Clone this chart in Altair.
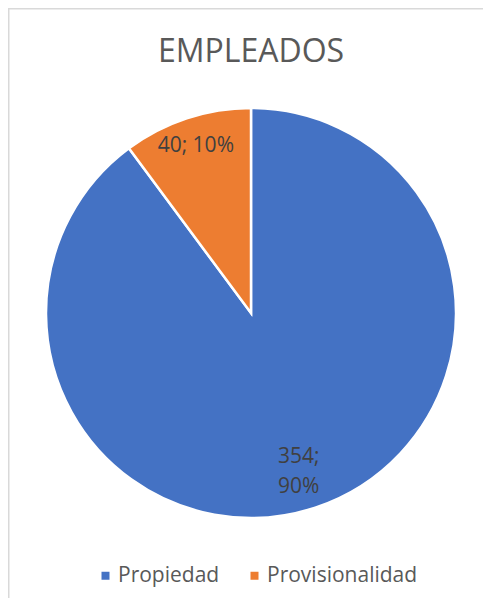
import altair as alt
import pandas as pd

categories = ["Propiedad", "Provisionalidad"]
values = [354, 40]
colors = ["#4472C4", "#ED7D31"]
label_sep = ["\n", " "]  # Excel wrapped the large slice's label onto two lines
title_text = "EMPLEADOS"

total = sum(values)
df = pd.DataFrame({
    "categoria": categories,
    "valor": values,
    "orden": list(range(len(categories))),
})
df["label"] = [f"{v};{s}{round(100 * v / total)}%" for v, s in zip(values, label_sep)]

FONT = "Open Sans"
CX, CY, R = 243, 305, 205
W, H = 475, 590

base = alt.Chart(df).encode(
    theta=alt.Theta("valor:Q", stack=True),
    order=alt.Order("orden:Q"),
)

pie = base.mark_arc(outerRadius=R, stroke="white", strokeWidth=2.5).encode(
    x=alt.value(CX),
    y=alt.value(CY),
    color=alt.Color(
        "categoria:N",
        scale=alt.Scale(domain=categories, range=colors),
        legend=alt.Legend(
            title=None,
            orient="none",
            direction="horizontal",
            legendX=87,
            legendY=557,
            symbolType="square",
            symbolSize=64,
            symbolStrokeWidth=0,
            labelFont=FONT,
            labelFontSize=21,
            labelColor="#595959",
            labelOffset=2,
            columnPadding=24,
            padding=0,
        ),
    ),
)

labels = base.mark_text(
    font=FONT, fontSize=21, color="#404040", align="center", baseline="middle",
    lineBreak="\n", lineHeight=30,
    radius=alt.expr("datum.categoria == 'Propiedad' ? 152 : 176"),
).encode(
    x=alt.value(CX), y=alt.value(CY), text="label:N",
)

title = alt.Chart(pd.DataFrame({"t": [title_text]})).mark_text(
    font=FONT, fontSize=32, color="#595959", align="center", baseline="alphabetic"
).encode(x=alt.value(CX), y=alt.value(54), text="t:N")

border_left = alt.Chart(pd.DataFrame({"t": [0]})).mark_rule(color="#d9d9d9", strokeWidth=1.5).encode(
    x=alt.value(0.75), y=alt.value(0), y2=alt.value(H)
)
border_top = alt.Chart(pd.DataFrame({"t": [0]})).mark_rule(color="#d9d9d9", strokeWidth=1.5).encode(
    x=alt.value(0), x2=alt.value(W), y=alt.value(0.75)
)

chart = alt.layer(border_left, border_top, pie, labels, title).properties(
    width=W, height=H, padding=0, autosize="none"
).configure_view(stroke=None).configure(background="white")

chart.save("out.html", embed_options={"renderer": "svg", "actions": False})
